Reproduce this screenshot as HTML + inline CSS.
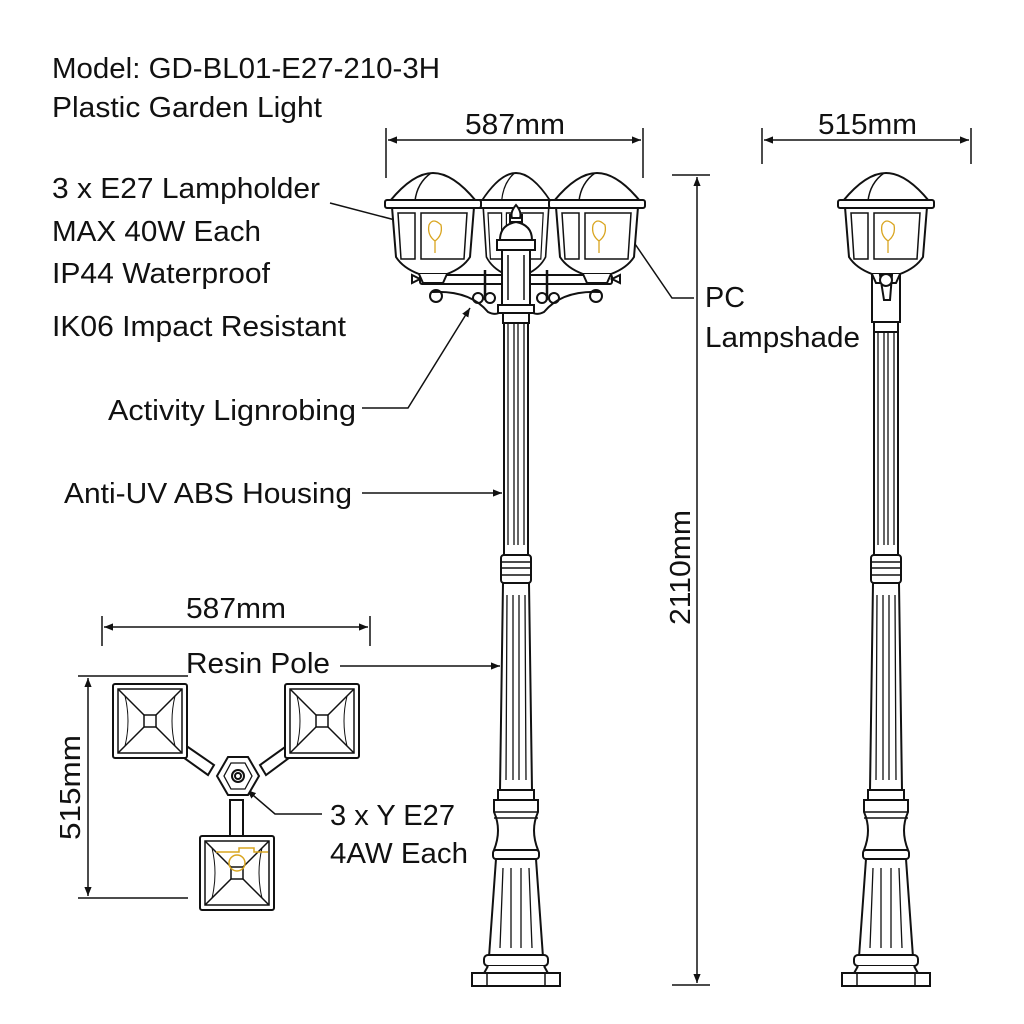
<!DOCTYPE html>
<html><head><meta charset="utf-8"><style>
html,body{margin:0;padding:0;background:#fff}
svg{display:block}
text{font-family:"Liberation Sans",Arial,sans-serif;fill:#111}
</style></head><body>
<svg width="1024" height="1024" viewBox="0 0 1024 1024" xmlns="http://www.w3.org/2000/svg">
<defs>
<marker id="ar" viewBox="0 0 10 10" refX="10" refY="5" markerWidth="9" markerHeight="9" orient="auto-start-reverse" markerUnits="userSpaceOnUse"><path d="M0,1 L10,5 L0,9 Z" fill="#111"/></marker>
<g id="pole" fill="#fff" stroke="#111" stroke-width="2">
<path d="M-12,300 L-12,555 L12,555 L12,300 Z"/>
<path d="M-8,320 v225 M-2,320 v225 M2,320 v225 M8,320 v225" stroke-width="1.3"/>
<rect x="-15" y="555" width="30" height="28" rx="3"/>
<path d="M-15,562 h30 M-15,568 h30 M-15,575 h30" stroke-width="1.5"/>
<path d="M-13,583 L-16,790 L16,790 L13,583 Z"/>
<path d="M-9,595 L-10,780 M-3,595 L-3,780 M3,595 L3,780 M9,595 L10,780" stroke-width="1.3"/>
<rect x="-18" y="790" width="36" height="10"/>
<path d="M-22,800 L22,800 L22,812 Q14,830 22,850 L-22,850 Q-14,830 -22,812 Z"/>
<path d="M-22,812 h44 M-22,818 h44" stroke-width="1.5"/>
<rect x="-23" y="850" width="46" height="9" rx="3"/>
<path d="M-20,859 L-27,957 L27,957 L20,859 Z"/>
<path d="M-13,868 L-16,948 M-5,868 L-5,948 M5,868 L5,948 M13,868 L16,948" stroke-width="1.3"/>
<rect x="-32" y="955" width="64" height="11" rx="4"/>
<path d="M-28,966 L-33,975 L33,975 L28,966"/>
<rect x="-44" y="973" width="88" height="13"/>
<path d="M-29,973 v13 M29,973 v13" stroke-width="1.5"/>
</g>
<g id="lan" fill="#fff" stroke="#111" stroke-width="2">
<path d="M-41,34 L-37,84 Q-30,95 -14,101 L14,101 Q30,95 37,84 L41,34 Z"/>
<path d="M-35,40 L-32,86 L-18,86 L-18,40 Z M-12,40 L-12,86 L31,86 L34,40 Z" stroke-width="1.5"/>
<path d="M-14,101 L-10,110 L10,110 L14,101"/>
<path d="M-43,28 Q-20,0 0,0 Q20,0 43,28 Z"/>
<path d="M-18,28 Q-16,10 -2,0" fill="none" stroke-width="1.5"/>
<rect x="-48" y="27" width="96" height="8" rx="2"/>
<path d="M2,80 v-12 q-8,-6 -6,-16 q4,-8 12,0 q2,10 -6,16" fill="none" stroke="#d9a520" stroke-width="1.3"/>
</g>
<g id="sq" fill="#fff" stroke="#111" stroke-width="2">
<rect x="0" y="0" width="74" height="74" rx="2"/>
<rect x="5" y="5" width="64" height="64" fill="none" stroke-width="1.5"/>
<path d="M5,5 L31,31 M69,5 L43,31 M5,69 L31,43 M69,69 L43,43" stroke-width="1.5"/>
<rect x="31" y="31" width="12" height="12" stroke-width="1.5"/>
<path d="M12,12 Q18,37 12,62 M62,12 Q56,37 62,62" fill="none" stroke-width="1"/>
</g>
</defs>

<g font-size="29" lengthAdjust="spacingAndGlyphs">
<text x="52" y="78" textLength="388" lengthAdjust="spacingAndGlyphs">Model: GD-BL01-E27-210-3H</text>
<text x="52" y="117" textLength="270" lengthAdjust="spacingAndGlyphs">Plastic Garden Light</text>
<text x="52" y="198" textLength="268" lengthAdjust="spacingAndGlyphs">3 x E27 Lampholder</text>
<text x="52" y="241" textLength="209" lengthAdjust="spacingAndGlyphs">MAX 40W Each</text>
<text x="52" y="283" textLength="218" lengthAdjust="spacingAndGlyphs">IP44 Waterproof</text>
<text x="52" y="336" textLength="294" lengthAdjust="spacingAndGlyphs">IK06 Impact Resistant</text>
<text x="108" y="420" textLength="248" lengthAdjust="spacingAndGlyphs">Activity Lignrobing</text>
<text x="64" y="503" textLength="288" lengthAdjust="spacingAndGlyphs">Anti-UV ABS Housing</text>
<text x="186" y="673" textLength="144" lengthAdjust="spacingAndGlyphs">Resin Pole</text>
<text x="186" y="618" textLength="100" lengthAdjust="spacingAndGlyphs">587mm</text>
<text x="330" y="825" textLength="125" lengthAdjust="spacingAndGlyphs">3 x Y E27</text>
<text x="330" y="863" textLength="138" lengthAdjust="spacingAndGlyphs">4AW Each</text>
<text x="705" y="307" textLength="40" lengthAdjust="spacingAndGlyphs">PC</text>
<text x="705" y="347" textLength="155" lengthAdjust="spacingAndGlyphs">Lampshade</text>
<text x="465" y="134" textLength="100" lengthAdjust="spacingAndGlyphs">587mm</text>
<text x="818" y="134" textLength="99" lengthAdjust="spacingAndGlyphs">515mm</text>
<text x="0" y="0" textLength="115" lengthAdjust="spacingAndGlyphs" transform="translate(690,625) rotate(-90)">2110mm</text>
<text x="0" y="0" textLength="105" lengthAdjust="spacingAndGlyphs" transform="translate(80,840) rotate(-90)">515mm</text>
</g>

<g stroke="#111" stroke-width="1.5" fill="none">
<path d="M386,128 v50 M643,128 v50"/>
<path d="M388,140 L641,140" marker-start="url(#ar)" marker-end="url(#ar)"/>
<path d="M762,128 v36 M971,128 v36"/>
<path d="M764,140 L969,140" marker-start="url(#ar)" marker-end="url(#ar)"/>
<path d="M672,175 h38 M672,985 h38"/>
<path d="M697,177 L697,983" marker-start="url(#ar)" marker-end="url(#ar)"/>
<path d="M102,616 v30 M370,616 v30"/>
<path d="M104,627 L368,627" marker-start="url(#ar)" marker-end="url(#ar)"/>
<path d="M78,676 h110 M78,898 h110"/>
<path d="M88,678 L88,896" marker-start="url(#ar)" marker-end="url(#ar)"/>
<path d="M330,203 L418,226" marker-end="url(#ar)"/>
<path d="M694,298 L672,298 L622,225" marker-end="url(#ar)"/>
<path d="M362,408 L408,408 L470,308" marker-end="url(#ar)"/>
<path d="M362,493 L502,493" marker-end="url(#ar)"/>
<path d="M340,666 L500,666" marker-end="url(#ar)"/>
<path d="M322,814 L275,814 L247,790" marker-end="url(#ar)"/>
</g>

<use href="#pole" transform="translate(516,0)"/>
<g fill="#fff" stroke="#111" stroke-width="2">
<rect x="420" y="275" width="192" height="9" rx="2"/>
<path d="M420,279 l-8,-4 v8 Z M612,279 l8,-4 v8 Z"/>
<path d="M432,292 Q470,290 488,312 Q500,318 505,305 M600,292 Q562,290 544,312 Q532,318 527,305" fill="none"/>
<circle cx="436" cy="296" r="6" fill="none"/><circle cx="596" cy="296" r="6" fill="none"/>
<circle cx="478" cy="298" r="5" fill="none"/><circle cx="554" cy="298" r="5" fill="none"/>
<circle cx="490" cy="298" r="5" fill="none"/><circle cx="542" cy="298" r="5" fill="none"/>
<path d="M485,270 v30 M547,270 v30" stroke-width="2.5"/>
</g>
<use href="#lan" transform="translate(516,173) scale(0.8,1)"/>
<use href="#lan" transform="translate(433,173)"/>
<use href="#lan" transform="translate(597,173)"/>
<g fill="#fff" stroke="#111" stroke-width="2">
<path d="M500,240 Q500,225 516,222 Q532,225 532,240 Z"/>
<path d="M510,222 L510,215 L522,215 L522,222 Z"/>
<path d="M516,205 Q510,212 512,218 L520,218 Q522,212 516,205 Z"/>
<rect x="497" y="240" width="38" height="10"/>
<rect x="502" y="250" width="28" height="55"/>
<path d="M508,255 v45 M524,255 v45" stroke-width="1.5"/>
<rect x="498" y="305" width="36" height="8"/>
<rect x="503" y="313" width="26" height="10"/>
</g>

<use href="#pole" transform="translate(886,0)"/>
<g fill="#fff" stroke="#111" stroke-width="2">
<rect x="872" y="270" width="28" height="52"/>
<rect x="874" y="322" width="24" height="10"/>
</g>
<use href="#lan" transform="translate(886,173)"/>
<path d="M880,275 L884,300 L890,300 L892,275 Z" fill="#fff" stroke="#111" stroke-width="2"/>
<circle cx="886" cy="280" r="6" fill="#fff" stroke="#111" stroke-width="2"/>

<g fill="#fff" stroke="#111" stroke-width="2">
<path d="M185,745 L214,765 L208,775 L180,755 Z"/>
<path d="M288,745 L260,765 L266,775 L293,755 Z"/>
<rect x="230" y="800" width="13" height="36"/>
<polygon points="228,757 248,757 259,776 248,795 228,795 217,776"/>
<polygon points="231,763 245,763 252,776 245,789 231,789 224,776" fill="none" stroke-width="1.3"/>
<circle cx="238" cy="776" r="6"/><circle cx="238" cy="776" r="3" fill="none"/>
</g>
<use href="#sq" transform="translate(113,684)"/>
<use href="#sq" transform="translate(285,684)"/>
<use href="#sq" transform="translate(200,836)"/>
<path d="M216,852 h23 v-4 h15 v4 h14" fill="none" stroke="#d9a520" stroke-width="1.5"/>
<circle cx="237" cy="863" r="8" fill="none" stroke="#d9a520" stroke-width="1.5"/>
</svg>
</body></html>
